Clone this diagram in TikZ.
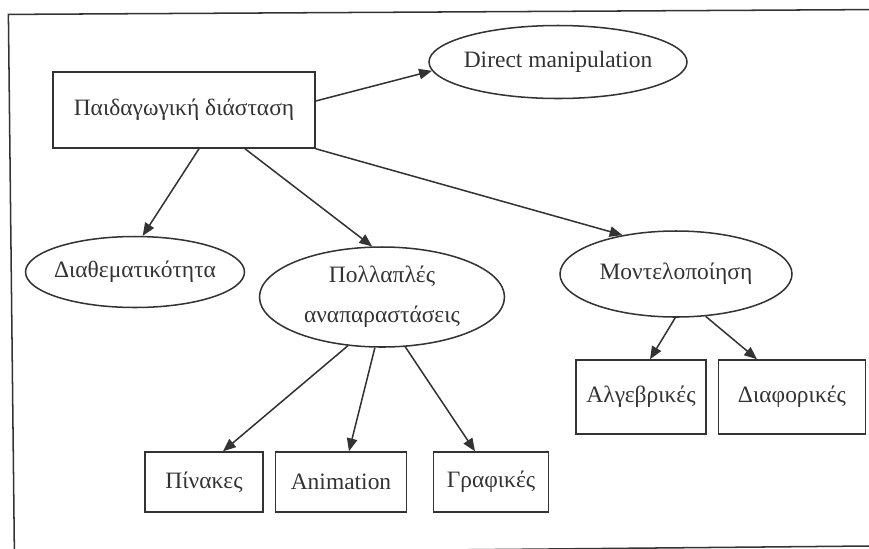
\documentclass[tikz,border=0pt]{standalone}
\usepackage{fontspec}
\setmainfont{Liberation Serif}
\usetikzlibrary{arrows.meta,positioning,shapes.geometric}

\begin{document}
\begin{tikzpicture}[
  every node/.style={font=\fontsize{16.7}{28.5}\selectfont},
  box/.style={draw, inner sep=0pt, minimum height=15mm},
  ell/.style={draw, ellipse, inner xsep=-4mm, inner ysep=0pt, align=center},
  >={Triangle[length=3.2mm,width=2.6mm]}, color=black!80, line width=0.38mm, on grid]
  \useasboundingbox (0,0) rectangle (217.25mm,-137mm);
  \draw (217.25mm,-2.4mm) -- (2.1mm,-3.6mm) -- (3.6mm,-138.5mm) -- (217.25mm,-136.5mm);
  \node[box, minimum width=65.5mm, minimum height=19mm] (ped) at (46mm,-27.5mm) {Παιδαγωγική διάσταση};
  \node[ell, minimum width=64.5mm, minimum height=18.25mm, above right=12mm and 93.5mm of ped] (dm) {Direct manipulation};
  \node[ell, minimum width=54.75mm, minimum height=17.75mm, below left=40.5mm and 12.25mm of ped] (dia) {Διαθεματικότητα};
  \node[ell, minimum width=61.25mm, minimum height=25mm, below right=46.75mm and 49.5mm of ped] (pol) {Πολλαπλές\\αναπαραστάσεις};
  \node[ell, minimum width=58mm, minimum height=21.5mm, below right=41mm and 123mm of ped] (mon) {Μοντελοποίηση};
  \node[box, minimum width=29.5mm, below left=46.25mm and 44.5mm of pol] (pin) {Πίνακες};
  \node[box, minimum width=32.75mm, right=34.25mm of pin] (ani) {Animation};
  \node[box, minimum width=28.75mm, right=37.5mm of ani] (gra) {Γραφικές};
  \node[box, minimum width=32.5mm, minimum height=18.5mm, below left=30.75mm and 8.75mm of mon] (alg) {Αλγεβρικές};
  \node[box, minimum width=36.75mm, minimum height=18.5mm, right=37.75mm of alg] (dif) {Διαφορικές};
  \draw[->] ([yshift=2.25mm]ped.east) -- (dm.184);
  \draw[->] ([xshift=3.75mm]ped.south) -- (dia.78);
  \draw[->] ([xshift=15.25mm]ped.south) -- (pol.101);
  \draw[->] (ped.south east) -- (mon.144);
  \draw[->] (pol.235) -- ([xshift=4.75mm]pin.north);
  \draw[->] (pol.262) -- ([xshift=2mm]ani.north);
  \draw[->] (pol.295) -- ([xshift=-4mm]gra.north);
  \draw[->] (mon.269) -- ([xshift=2.25mm]alg.north);
  \draw[->] (mon.305) -- ([xshift=-8.75mm]dif.north);
\end{tikzpicture}
\end{document}
